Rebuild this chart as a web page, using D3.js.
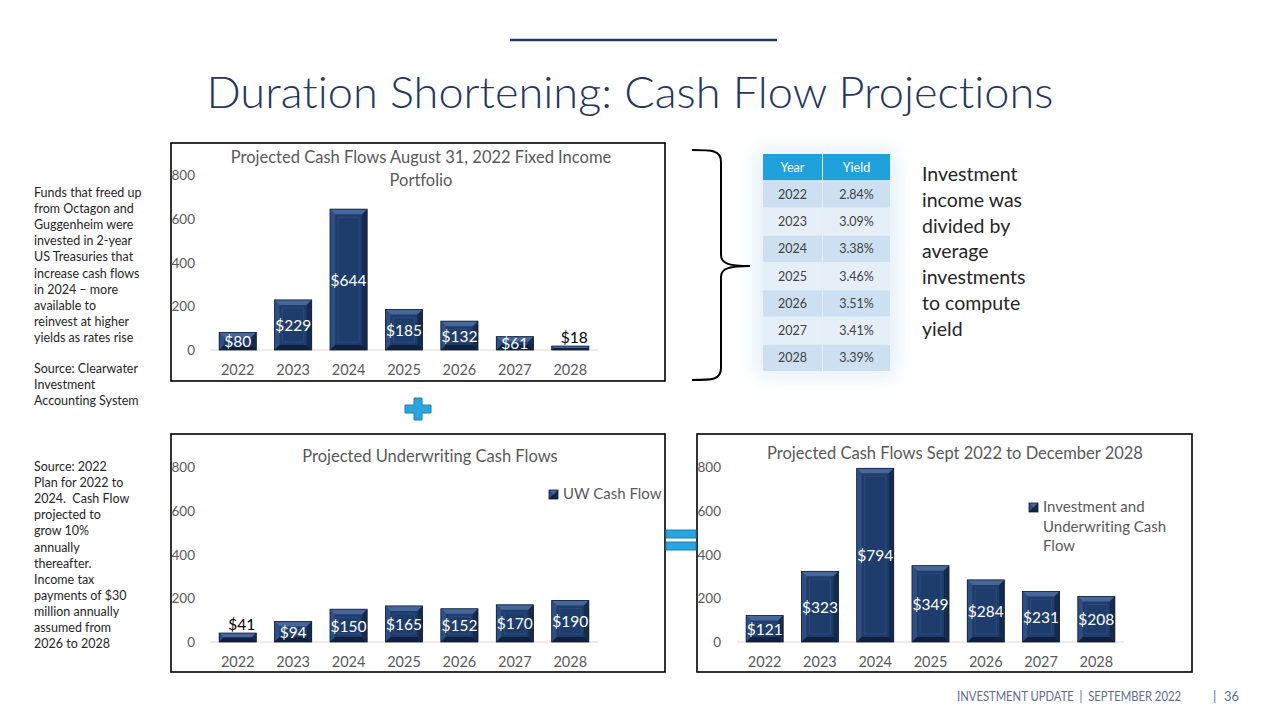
<!DOCTYPE html>
<html><head><meta charset="utf-8">
<script src="https://cdn.jsdelivr.net/npm/d3@7"></script>
<style>
html,body{margin:0;padding:0;background:#fff;}
svg{display:block;font-family:Lato,"Open Sans",sans-serif;font-variant-ligatures:none;}
text{white-space:pre;}
</style></head>
<body>
<svg id="c" width="1280" height="720"></svg>
<script>
// ---------- DATA ----------
const years = ["2022","2023","2024","2025","2026","2027","2028"];
const portfolioCF = [80,229,644,185,132,61,18];
const uwCF = [41,94,150,165,152,170,190];
const totalCF = [121,323,794,349,284,231,208];
const yieldYears = ["2022","2023","2024","2025","2026","2027","2028"];
const yieldValues = ["2.84%","3.09%","3.38%","3.46%","3.51%","3.41%","3.39%"];
const yTicks = [0,200,400,600,800];
const leftNote1 = ["Funds that freed up","from Octagon and","Guggenheim were","invested in 2-year","US Treasuries that","increase cash flows","in 2024 \u2013 more","available to","reinvest at higher","yields as rates rise"];
const leftNote1b = ["Source: Clearwater","Investment","Accounting System"];
const leftNote2 = ["Source: 2022","Plan for 2022 to","2024.  Cash Flow","projected to","grow 10%","annually","thereafter.","Income tax","payments of $30","million annually","assumed from","2026 to 2028"];
const sideNote = ["Investment","income was","divided by","average","investments","to compute","yield"];

const svg = d3.select("#c");
const navy = "#1f3864";

// title line + title
svg.append("line").attr("x1",510).attr("x2",777).attr("y1",40).attr("y2",40)
  .attr("stroke",navy).attr("stroke-width",2.5);
svg.append("text").attr("x",630).attr("y",108).attr("text-anchor","middle")
  .attr("font-size",44).attr("font-weight",300).attr("fill",navy).attr("textLength",847).attr("lengthAdjust","spacingAndGlyphs")
  .text("Duration Shortening: Cash Flow Projections");

// defs
const defs = svg.append("defs");
const f = defs.append("filter").attr("id","glow").attr("x","-30%").attr("y","-30%").attr("width","160%").attr("height","160%");
f.append("feGaussianBlur").attr("stdDeviation",10);

function bevelBar(g, x0, y0, w, h){
  const b = Math.min(5, h/2, w/2);
  g.append("rect").attr("x",x0).attr("y",y0).attr("width",w).attr("height",h).attr("fill","#1f3d6c");
  const poly = (pts, fill) => g.append("path").attr("d", d3.line()(pts)+"Z").attr("fill",fill);
  poly([[x0,y0],[x0+w,y0],[x0+w-b,y0+b],[x0+b,y0+b]], "#47679a");
  poly([[x0,y0],[x0+b,y0+b],[x0+b,y0+h-b],[x0,y0+h]], "#2f4f82");
  poly([[x0+w,y0],[x0+w,y0+h],[x0+w-b,y0+h-b],[x0+w-b,y0+b]], "#152a4d");
  poly([[x0,y0+h],[x0+b,y0+h-b],[x0+w-b,y0+h-b],[x0+w,y0+h]], "#102140");
  if (h > 2*b + 8) {
    g.append("rect").attr("x",x0+b+3).attr("y",y0+b+3).attr("width",Math.max(0,w-2*b-6)).attr("height",Math.max(0,h-2*b-6))
      .attr("fill","none").attr("stroke","#2b4a7a").attr("stroke-width",1);
  }
  g.append("rect").attr("x",x0).attr("y",y0).attr("width",w).attr("height",h)
    .attr("fill","none").attr("stroke","#0e1d38").attr("stroke-width",0.8);
}

function drawChart(cfg){
  const g = svg.append("g");
  g.append("rect").attr("x",cfg.box[0]).attr("y",cfg.box[1]).attr("width",cfg.box[2]).attr("height",cfg.box[3])
    .attr("fill","#fff").attr("stroke","#000").attr("stroke-width",1.6);
  const x = d3.scaleBand().domain(years).range(cfg.xr).paddingInner(0.33).paddingOuter(0.165);
  const y = d3.scaleLinear().domain([0,800]).range(cfg.yr);
  g.selectAll(".yt").data(yTicks).enter().append("text")
    .attr("x",cfg.tickX).attr("y",d=>y(d)+5).attr("text-anchor","end")
    .attr("font-size",13.5).attr("fill","#595959").text(d=>d);
  g.append("line").attr("x1",cfg.xr[0]).attr("x2",cfg.xr[1]).attr("y1",y(0)).attr("y2",y(0))
    .attr("stroke","#d9d9d9").attr("stroke-width",1);
  g.selectAll(".xt").data(years).enter().append("text")
    .attr("x",d=>x(d)+x.bandwidth()/2).attr("y",y(0)+25).attr("text-anchor","middle")
    .attr("font-size",14.5).attr("fill","#595959").text(d=>d);
  cfg.values.forEach((v,i)=>{
    const x0 = x(years[i]), w = x.bandwidth(), y0 = y(v), h = y(0)-y(v);
    bevelBar(g, x0, y0, w, h);
  });
  cfg.values.forEach((v,i)=>{
    const cx = x(years[i]) + x.bandwidth()/2;
    const h = y(0)-y(v);
    const small = h < 10;
    g.append("text").attr("x",cx + (small?4:0))
      .attr("y", small ? y(v)-3 : (y(v)+y(0))/2 + 6)
      .attr("text-anchor","middle").attr("font-size",15.5)
      .attr("fill", small ? "#000" : "#fff").text("$"+v);
  });
  cfg.title.forEach((t,i)=>{
    g.append("text").attr("x",cfg.titleX).attr("y",cfg.titleY + i*23).attr("text-anchor","middle")
      .attr("font-size",16.5).attr("fill","#595959").text(t);
  });
  if (cfg.legend){
    const L = cfg.legend;
    bevelBar(g, L.x, L.y, 9, 9);
    L.lines.forEach((t,i)=>{
      g.append("text").attr("x",L.x+14).attr("y",L.y+9+i*19.5).attr("font-size",15)
        .attr("fill","#595959").text(t);
    });
  }
}

drawChart({box:[171,143,494,238], xr:[210,598], yr:[350,175], tickX:195, values:portfolioCF,
  title:["Projected Cash Flows August 31, 2022 Fixed Income","Portfolio"], titleX:421, titleY:163});
drawChart({box:[171,434,494,238], xr:[210,598], yr:[642,467], tickX:195, values:uwCF,
  title:["Projected Underwriting Cash Flows"], titleX:430, titleY:462,
  legend:{x:549, y:490, lines:["UW Cash Flow"]}});
drawChart({box:[697,434,495,238], xr:[737,1124], yr:[642,467], tickX:721, values:totalCF,
  title:["Projected Cash Flows Sept 2022 to December 2028"], titleX:955, titleY:459,
  legend:{x:1029, y:503, lines:["Investment and","Underwriting Cash","Flow"]}});

// table glow
svg.append("rect").attr("x",756).attr("y",150).attr("width",140).attr("height",226)
  .attr("fill","#d6e6f5").attr("opacity",0.7).attr("filter","url(#glow)");
// table
const tx = d3.scaleOrdinal().domain(["Year","Yield"]).range([763,823]);
const colW = {Year:59, Yield:67};
const rowY = d3.scaleBand().domain(["h"].concat(yieldYears)).range([154,371]).paddingInner(0.04);
const tg = svg.append("g");
["Year","Yield"].forEach(c=>{
  tg.append("rect").attr("x",tx(c)).attr("y",rowY("h")).attr("width",colW[c]).attr("height",rowY.bandwidth())
    .attr("fill","#1fa2dc");
  tg.append("text").attr("x",tx(c)+colW[c]/2).attr("y",rowY("h")+rowY.bandwidth()/2+4.5)
    .attr("text-anchor","middle").attr("font-size",12.5).attr("fill","#fff").text(c);
});
yieldYears.forEach((yr,i)=>{
  const fill = i%2===0 ? "#cde0f1" : "#e6eff8";
  const vals = {Year:yr, Yield:yieldValues[i]};
  ["Year","Yield"].forEach(c=>{
    tg.append("rect").attr("x",tx(c)).attr("y",rowY(yr)).attr("width",colW[c]).attr("height",rowY.bandwidth())
      .attr("fill",fill);
    tg.append("text").attr("x",tx(c)+colW[c]/2).attr("y",rowY(yr)+rowY.bandwidth()/2+4.5)
      .attr("text-anchor","middle").attr("font-size",12.5).attr("fill","#404040").text(vals[c]);
  });
});

sideNote.forEach((t,i)=>{
  svg.append("text").attr("x",922).attr("y",181+i*25.8).attr("font-size",19.5).attr("fill","#262626").text(t);
});

leftNote1.forEach((t,i)=>{
  svg.append("text").attr("x",34).attr("y",197+i*16.1).attr("font-size",12.5).attr("fill","#262626").text(t);
});
leftNote1b.forEach((t,i)=>{
  svg.append("text").attr("x",34).attr("y",373+i*15.8).attr("font-size",12.5).attr("fill","#262626").text(t);
});
leftNote2.forEach((t,i)=>{
  svg.append("text").attr("x",34).attr("y",471+i*16.1).attr("font-size",12.5).attr("fill","#262626").text(t);
});

// brace
const brace = d3.path();
brace.moveTo(692,150);
brace.bezierCurveTo(712,150,721,150,721,162);
brace.lineTo(721,255);
brace.bezierCurveTo(721,264,730,266,750,266);
brace.bezierCurveTo(730,266,721,268,721,277);
brace.lineTo(721,368);
brace.bezierCurveTo(721,380,712,380,692,380);
svg.append("path").attr("d",brace.toString()).attr("fill","none").attr("stroke","#000").attr("stroke-width",2);

// plus icon
const plus = svg.append("g").attr("transform","translate(418,409)");
plus.append("path").attr("d","M-4,-11H4V-4H13V4H4V11H-4V4H-13V-4H-4Z")
  .attr("fill","#2aa6de").attr("stroke","#1a7fb0").attr("stroke-width",1);
// equals icon
const eq = svg.append("g").attr("transform","translate(681,540)");
eq.append("rect").attr("x",-15).attr("y",-10).attr("width",30).attr("height",8).attr("fill","#2aa6de").attr("stroke","#1a7fb0");
eq.append("rect").attr("x",-15).attr("y",2).attr("width",30).attr("height",8).attr("fill","#2aa6de").attr("stroke","#1a7fb0");

// footer
svg.append("text").attr("x",957).attr("y",701).attr("font-size",13).attr("fill","#5a6d8f")
  .attr("textLength",224).attr("lengthAdjust","spacingAndGlyphs").text("INVESTMENT UPDATE  |  SEPTEMBER 2022");
svg.append("text").attr("x",1213).attr("y",701).attr("font-size",13).attr("fill","#5a6d8f").text("|");
svg.append("text").attr("x",1224).attr("y",701).attr("font-size",13).attr("fill","#5a6d8f").text("36");
</script>
</body></html>
